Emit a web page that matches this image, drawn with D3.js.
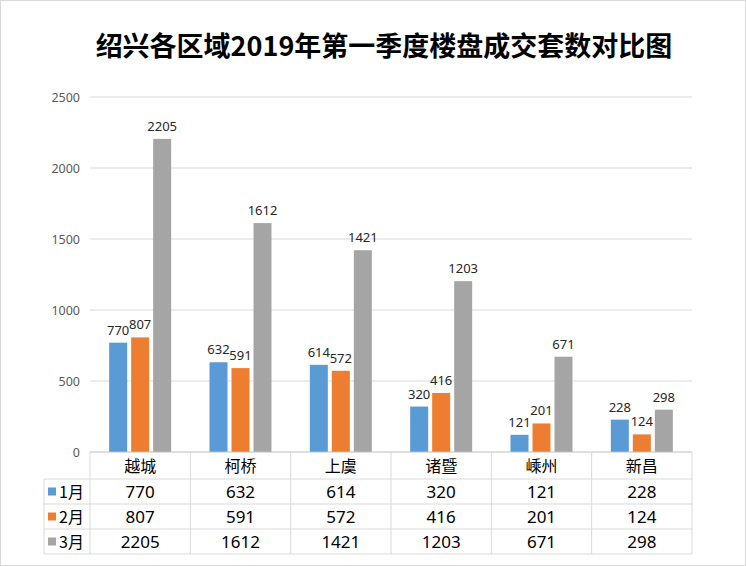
<!DOCTYPE html>
<html><head><meta charset="utf-8">
<script src="https://cdn.jsdelivr.net/npm/d3@7"></script>
<style>body{margin:0;background:#fff}svg{display:block;font-family:"Noto Sans CJK SC","Noto Sans",sans-serif}</style>
</head><body>
<svg id="c" width="746" height="566"></svg>
<script>
const title = "绍兴各区域2019年第一季度楼盘成交套数对比图";
const categories = ["越城","柯桥","上虞","诸暨","嵊州","新昌"];
const seriesNames = ["1月","2月","3月"];
const jan = [770,632,614,320,121,228];
const feb = [807,591,572,416,201,124];
const mar = [2205,1612,1421,1203,671,298];
const yTicks = [0,500,1000,1500,2000,2500];
const colors = ["#5B9BD5","#ED7D31","#A5A5A5"];
const series = [jan,feb,mar];

const svg = d3.select("#c");
const L = 90, R = 692, T = 97, B = 452;
const rowH = 25, headH = 27, legendL = 44;

svg.append("rect").attr("x",0.5).attr("y",0.5).attr("width",745).attr("height",565)
  .attr("fill","#fff").attr("stroke","#D9D9D9");

svg.append("text").attr("x",384).attr("y",56).attr("text-anchor","middle")
  .attr("font-size",27).attr("font-weight","bold").attr("fill","#000").text(title);

const x = d3.scaleBand().domain(categories).range([L,R]);
const y = d3.scaleLinear().domain([0,2500]).range([B,T]);
const barW = 18, gap = 4;
const xs = d3.scaleBand().domain(seriesNames).range([0,barW*3+gap*2]).paddingInner(gap/(barW+gap));

// grid
svg.append("g").selectAll("line").data(yTicks.filter(d=>d>0)).join("line")
  .attr("x1",L).attr("x2",R).attr("y1",d=>y(d)).attr("y2",d=>y(d))
  .attr("stroke","#D9D9D9");

// y axis
const ya = svg.append("g").attr("transform",`translate(${L},0)`)
  .call(d3.axisLeft(y).tickValues(yTicks).tickFormat(d3.format("d")).tickSize(0).tickPadding(10));
ya.select(".domain").remove();
ya.selectAll("text").attr("font-size",12.5).attr("fill","#595959").attr("font-family","'Noto Sans','DejaVu Sans',sans-serif");

// bars
const groupW = barW*3+gap*2;
series.forEach((vals,si)=>{
  const g = svg.append("g");
  g.selectAll("rect").data(vals).join("rect")
    .attr("x",(d,i)=>x(categories[i])+x.bandwidth()/2-groupW/2+xs(seriesNames[si]))
    .attr("y",d=>y(d)).attr("width",xs.bandwidth()).attr("height",d=>B-y(d))
    .attr("fill",colors[si]);
  g.selectAll("text").data(vals).join("text")
    .attr("x",(d,i)=>x(categories[i])+x.bandwidth()/2-groupW/2+xs(seriesNames[si])+xs.bandwidth()/2)
    .attr("y",d=>y(d)-8).attr("text-anchor","middle")
    .attr("font-size",13).attr("fill","#262626")
    .attr("font-family","'Noto Sans','DejaVu Sans',sans-serif").text(d=>d);
});

// table
const tg = svg.append("g");
const lineC = "#D9D9D9";
const tableBottom = B+headH+rowH*3;
tg.append("line").attr("x1",L).attr("x2",R).attr("y1",B).attr("y2",B).attr("stroke","#BFBFBF");
[1,2,3].forEach(k=>{
  const yy = B+headH+rowH*(k-1);
  tg.append("line").attr("x1",legendL).attr("x2",R).attr("y1",yy).attr("y2",yy).attr("stroke",lineC);
});
tg.append("line").attr("x1",legendL).attr("x2",R).attr("y1",tableBottom).attr("y2",tableBottom).attr("stroke",lineC);
const vx = categories.map(c=>x(c)).concat([R]);
vx.forEach(v=>tg.append("line").attr("x1",v).attr("x2",v).attr("y1",B).attr("y2",tableBottom).attr("stroke",lineC));
tg.append("line").attr("x1",legendL).attr("x2",legendL).attr("y1",B+headH).attr("y2",tableBottom).attr("stroke",lineC);

tg.selectAll("text.h").data(categories).join("text").attr("class","h")
  .attr("x",d=>x(d)+x.bandwidth()/2).attr("y",B+headH/2+6).attr("text-anchor","middle")
  .attr("font-size",16).attr("fill","#000").text(d=>d);

series.forEach((vals,si)=>{
  const yy = B+headH+rowH*si+rowH/2;
  tg.append("rect").attr("x",legendL+4).attr("y",yy-4).attr("width",8).attr("height",8).attr("fill",colors[si]);
  tg.append("text").attr("x",legendL+15).attr("y",yy+6).attr("font-size",16).attr("fill","#000").text(seriesNames[si]);
  tg.selectAll("text.v"+si).data(vals).join("text").attr("class","v"+si)
    .attr("x",(d,i)=>x(categories[i])+x.bandwidth()/2).attr("y",yy+6).attr("text-anchor","middle")
    .attr("font-size",17).attr("fill","#000")
    .attr("font-family","'Noto Sans','DejaVu Sans',sans-serif").text(d=>d);
});
</script>
</body></html>
